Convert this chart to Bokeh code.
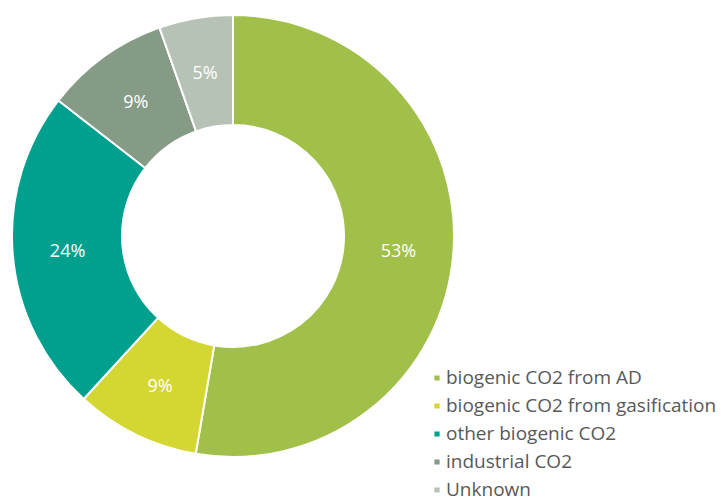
import math
from bokeh.plotting import figure
from bokeh.models import Range1d, ColumnDataSource, Legend, LegendItem
from bokeh.core.properties import value
from bokeh.embed import file_html
from bokeh.resources import INLINE

categories = ["biogenic CO2 from AD", "biogenic CO2 from gasification",
              "other biogenic CO2", "industrial CO2", "Unknown"]
shares = [52.7, 9.1, 23.7, 9.1, 5.4]
colors = ["#a1c049", "#d4d731", "#00a08f", "#869b86", "#b6c2b5"]

W, H = 722, 504
cx, cy = 232.5, H - 235.5
r_out, r_in = 221, 111

total = sum(shares)
starts, ends, lx, ly, labels = [], [], [], [], []
cum = 0.0
for s in shares:
    a0 = math.pi / 2 - cum / total * 2 * math.pi
    cum += s
    a1 = math.pi / 2 - cum / total * 2 * math.pi
    starts.append(a0)
    ends.append(a1)
    mid = (a0 + a1) / 2
    rm = (r_out + r_in) / 2
    lx.append(cx + rm * math.cos(mid))
    ly.append(cy + rm * math.sin(mid))
    labels.append(f"{round(s)}%")

src = ColumnDataSource(dict(cat=categories, start=starts, end=ends, color=colors,
                            lx=lx, ly=ly, label=labels))

p = figure(width=W, height=H, x_range=Range1d(0, W), y_range=Range1d(0, H),
           x_axis_type=None, y_axis_type=None, toolbar_location=None,
           output_backend="svg", min_border=0, outline_line_color=None)
p.grid.visible = False

r = p.annular_wedge(x=cx, y=cy, inner_radius=r_in, outer_radius=r_out,
                    start_angle="start", end_angle="end", direction="clock",
                    fill_color="color", line_color="white", line_width=2, source=src)

p.text(x="lx", y="ly", text="label", source=src, text_color="white",
       text_font=value("Open Sans"), text_font_size="18px",
       text_align="center", text_baseline="middle")

items = [LegendItem(label=c, renderers=[r], index=i) for i, c in enumerate(categories)]
legend = Legend(items=items, location=(432, 2), orientation="vertical",
                glyph_width=9, glyph_height=9, label_height=20, spacing=2,
                label_text_font="Open Sans", label_text_font_size="19px",
                label_text_color="#595959", label_standoff=5,
                border_line_color=None, background_fill_alpha=0, padding=0, margin=0)
p.add_layout(legend)

open("out.html", "w").write(file_html(p, INLINE))
